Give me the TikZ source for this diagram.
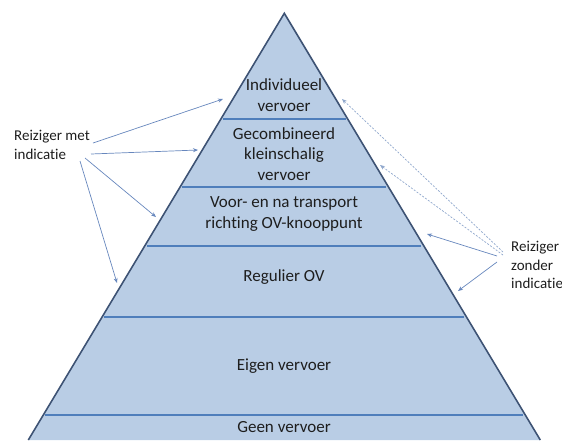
\documentclass[tikz,border=0pt]{standalone}
\usepackage{fontspec}
\setmainfont{Carlito}[Ligatures={NoCommon}]
\usetikzlibrary{arrows.meta}
\definecolor{pfill}{HTML}{B9CDE5}
\definecolor{pedge}{HTML}{3E5374}
\definecolor{pdiv}{HTML}{4F7EBB}
\definecolor{parr}{HTML}{6787BD}
\definecolor{pdash}{HTML}{8FA7CC}
\definecolor{ptext}{HTML}{1E1E1E}
\tikzset{
  layer/.style={align=center,inner sep=0pt,text=ptext,font=\fontsize{17}{20.8}\selectfont},
  side/.style={align=left,inner sep=0pt,text=ptext,font=\fontsize{15}{18.8}\selectfont},
  divider/.style={draw=pdiv,line width=2.4pt},
  solidarr/.style={draw=parr,line width=0.7pt,-{Stealth[length=5pt,width=4pt]}},
  dasharr/.style={draw=pdash,line width=0.7pt,dash pattern=on 2pt off 1.5pt,-{Stealth[length=5pt,width=4pt]}},
}
\begin{document}
\begin{tikzpicture}[x=1pt,y=-1pt]
\useasboundingbox (0,0) rectangle (562,440);
\begin{scope}
\clip (0,0) rectangle (562,440);
% pyramid
\coordinate (apex) at (284.3,13.3);
\coordinate (bl) at (28.3,440);
\coordinate (br) at (540.3,440);
\fill[pfill] (apex) -- (bl) -- (br) -- cycle;
% dividers
\draw[divider] (223,119) -- (346,119);
\draw[divider] (182,187) -- (386,187);
\draw[divider] (147,246) -- (421,246);
\draw[divider] (104,317) -- (464,317);
\draw[divider] (45,415) -- (523,415);
\draw[pedge,line width=1.6pt,line join=miter] (bl) -- (apex) -- (br);
\end{scope}
% layer texts
\node[layer] (l1) at (284,95) {Individueel\\vervoer};
\node[layer] (l2) at (284,154) {Gecombineerd\\kleinschalig\\vervoer};
\node[layer] (l3) at (284,214) {Voor- en na transport\\richting OV-knooppunt};
\node[layer] (l4) at (284,277) {Regulier OV};
\node[layer] (l5) at (284,366) {Eigen vervoer};
\node[layer] (l6) at (284,427) {Geen vervoer};
% side labels
\node[side,anchor=west] (met) at (14,145) {Reiziger met\\indicatie};
\node[side,anchor=west] (zonder) at (511,265) {Reiziger\\zonder\\indicatie};
% arrow endpoints
\coordinate (m1s) at (93,143);
\coordinate (m2s) at (91,154);
\coordinate (m3s) at (85,158);
\coordinate (m4s) at (80,161);
\coordinate (m1) at (223,99);
\coordinate (m2) at (198,150);
\coordinate (m3) at (156,217);
\coordinate (m4) at (117,283);
\coordinate (z1s) at (503,252);
\coordinate (z2s) at (503,255);
\coordinate (z3s) at (497,256);
\coordinate (z4s) at (497,262);
\coordinate (z1) at (342,99);
\coordinate (z2) at (380,165);
\coordinate (z3) at (427,234);
\coordinate (z4) at (458,291);
\draw[solidarr] (m1s) -- (m1);
\draw[solidarr] (m2s) -- (m2);
\draw[solidarr] (m3s) -- (m3);
\draw[solidarr] (m4s) -- (m4);
\draw[dasharr] (z1s) -- (z1);
\draw[dasharr] (z2s) -- (z2);
\draw[solidarr] (z3s) -- (z3);
\draw[solidarr] (z4s) -- (z4);
\end{tikzpicture}
\end{document}
